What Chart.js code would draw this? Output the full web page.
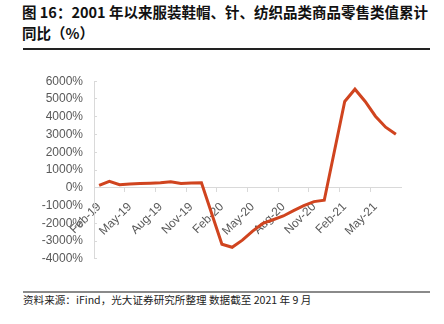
<!DOCTYPE html>
<html>
<head>
<meta charset="utf-8">
<script src="https://cdn.jsdelivr.net/npm/chart.js@4/dist/chart.umd.min.js"></script>
<style>
	html, body { margin: 0; padding: 0; background: #fff; }
	body { width: 444px; height: 324px; position: relative; overflow: hidden; }
	#title {
		position: absolute; left: 22px; top: 1px;
		font: bold 14.5px "Noto Sans CJK SC", sans-serif; line-height: 21px; color: #111;
		white-space: nowrap;
	}
	#title-rule { position: absolute; left: 23px; top: 48px; width: 407px; height: 2px; background: #222; }
	#chart-box { position: absolute; left: 0; top: 60px; width: 444px; height: 220px; }
	#foot-rule { position: absolute; left: 23px; top: 291px; width: 407px; height: 1.5px; background: #8a8a8a; }
	#source {
		position: absolute; left: 23px; top: 292px;
		font: 10.6px "Noto Sans CJK SC", sans-serif; line-height: 15px; color: #222;
		white-space: nowrap;
	}
</style>
</head>
<body>
<div id="title">图 16：2001 年以来服装鞋帽、针、纺织品类商品零售类值累计<br>同比（%）</div>
<div id="title-rule"></div>
<div id="chart-box"><canvas id="retail-chart"></canvas></div>
<div id="foot-rule"></div>
<div id="source">资料来源：iFind，光大证券研究所整理 数据截至 2021 年 9 月</div>
<script>
const retailChartElem = document.querySelector('#retail-chart');

// monthly categories; January is not published separately, so those slots stay empty
const months = [
	'Feb-19', 'Mar-19', 'Apr-19', 'May-19', 'Jun-19', 'Jul-19', 'Aug-19', 'Sep-19', 'Oct-19', 'Nov-19', 'Dec-19',
	'Jan-20', 'Feb-20', 'Mar-20', 'Apr-20', 'May-20', 'Jun-20', 'Jul-20', 'Aug-20', 'Sep-20', 'Oct-20', 'Nov-20', 'Dec-20',
	'Jan-21', 'Feb-21', 'Mar-21', 'Apr-21', 'May-21', 'Jun-21', 'Jul-21'
];

// cumulative yoy, %
const cumulativeYoy = [
	130, 360, 170, 210, 240, 260, 280, 340, 240, 270, 280,
	null, -3180, -3350, -2950, -2440, -2010, -1800, -1590, -1290, -1010, -780, -700,
	null, 4860, 5550, 4860, 4030, 3410, 3010
];

const yMin = -4000;
const yMax = 6000;
const yStep = 1000;

const axisGray = '#d9d9d9';
const labelGray = '#595959';

Chart.defaults.font.family = 'Liberation Sans';
Chart.defaults.font.size = 12;
Chart.defaults.color = labelGray;

const chartConfig = {
	type: 'line',
	data: {
		labels: months,
		datasets: [{
			label: '累计同比',
			data: cumulativeYoy,
			borderColor: '#d0441f',
			borderWidth: 3,
			pointRadius: 0,
			tension: 0,
			spanGaps: true
		}]
	},
	options: {
		responsive: true,
		maintainAspectRatio: false,
		animation: false,
		layout: {
			padding: { top: 21, right: 43, bottom: 20, left: 0 }
		},
		scales: {
			x: {
				type: 'category',
				offset: true,
				position: { y: 0 },
				border: { color: axisGray, width: 1 },
				grid: {
					offset: true,
					drawOnChartArea: false,
					tickLength: 4,
					color: ctx => (ctx.index % 3 === 0 ? axisGray : 'rgba(0,0,0,0)')
				},
				ticks: {
					autoSkip: false,
					minRotation: 45,
					maxRotation: 45,
					padding: 8,
					callback: function (value, index) {
						return index % 3 === 0 ? this.getLabelForValue(value) : '';
					}
				}
			},
			y: {
				min: yMin,
				max: yMax,
				border: { color: axisGray, width: 1 },
				grid: {
					drawOnChartArea: false,
					tickLength: -3,
					color: axisGray
				},
				ticks: {
					stepSize: yStep,
					padding: 14,
					callback: value => `${value}%`
				},
				afterFit: scale => { scale.width = 94; }
			}
		},
		plugins: {
			legend: { display: false },
			tooltip: { enabled: false }
		}
	}
};

new Chart(retailChartElem, chartConfig);
</script>
</body>
</html>
